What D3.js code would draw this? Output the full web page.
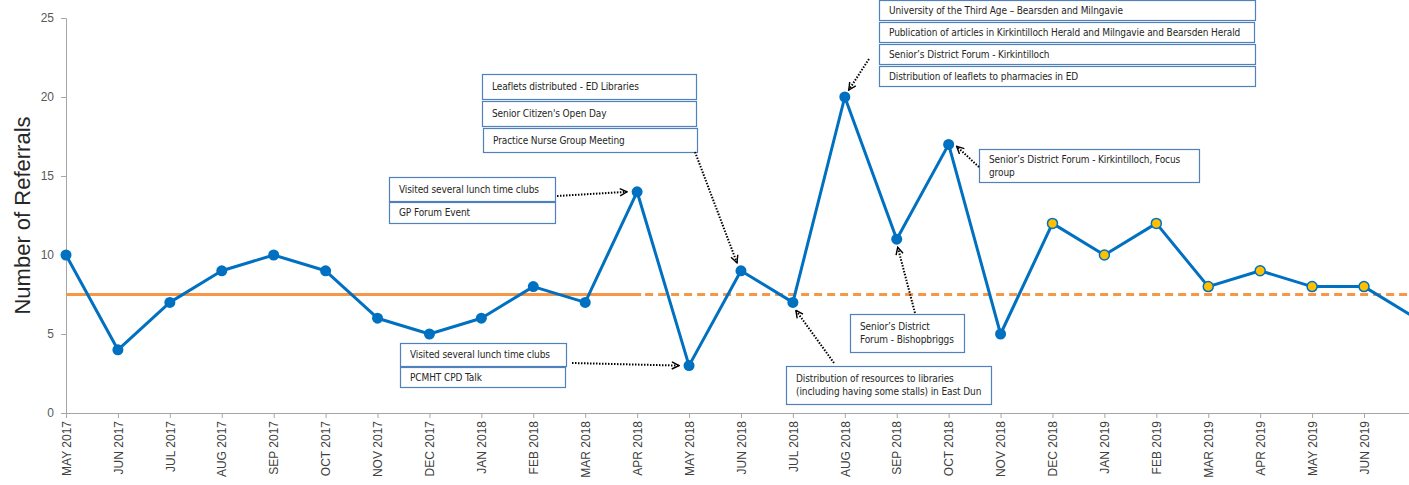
<!DOCTYPE html>
<html>
<head>
<meta charset="utf-8">
<script src="https://cdn.jsdelivr.net/npm/d3@7"></script>
<style>
  body { margin: 0; background: #fff; }
  svg { display: block; font-family: Arial, "Liberation Sans", sans-serif; }
</style>
</head>
<body>
<script>
const W = 1409, H = 485;

// months (JUL 2019 sits just past the right edge, like the cropped original)
const months = ['MAY 2017','JUN 2017','JUL 2017','AUG 2017','SEP 2017','OCT 2017','NOV 2017','DEC 2017',
  'JAN 2018','FEB 2018','MAR 2018','APR 2018','MAY 2018','JUN 2018','JUL 2018','AUG 2018','SEP 2018',
  'OCT 2018','NOV 2018','DEC 2018','JAN 2019','FEB 2019','MAR 2019','APR 2019','MAY 2019','JUN 2019','JUL 2019'];
const referrals = [10,4,7,9,10,9,6,5,6,8,7,14,3,9,7,20,11,17,5,12,10,12,8,9,8,8,6];
const highlighted = ['DEC 2018','JAN 2019','FEB 2019','MAR 2019','APR 2019','MAY 2019','JUN 2019'];
const medianValue = 7.5;
const medianBaselineEnd = 'APR 2018';
const yTicks = [0,5,10,15,20,25];

const data = months.map((m, i) => ({ m, v: referrals[i] }));

const svg = d3.select('body').append('svg')
  .attr('width', W)
  .attr('height', H);

const margin = { top: 18, left: 66, bottom: 72 };
const step = 51.92;

const x = d3.scalePoint()
  .domain(months)
  .range([margin.left, margin.left + step * (months.length - 1)]);

const y = d3.scaleLinear()
  .domain([0, 25])
  .range([H - margin.bottom, margin.top]);

// y axis
const yAxis = svg.append('g')
  .attr('transform', `translate(${margin.left},0)`)
  .call(d3.axisLeft(y).tickValues(yTicks).tickSize(5).tickPadding(7));
yAxis.select('.domain').attr('stroke', '#a6a6a6');
yAxis.selectAll('line').attr('stroke', '#a6a6a6');
yAxis.selectAll('text').attr('fill', '#595959').style('font-size', '12px');

// x axis (the last month is off the visible edge, so no label for it)
const xAxis = svg.append('g')
  .attr('transform', `translate(0,${y(0)})`)
  .call(d3.axisBottom(x).tickValues(months.slice(0, -1)).tickSize(5).tickSizeOuter(0));
xAxis.select('.domain').attr('stroke', '#a6a6a6');
xAxis.selectAll('line').attr('stroke', '#a6a6a6');
xAxis.selectAll('text')
  .attr('fill', '#404040')
  .style('font-size', '12px')
  .attr('transform', 'rotate(-90)')
  .attr('x', -8)
  .attr('y', 0)
  .attr('dy', '0.35em')
  .style('text-anchor', 'end');

svg.append('text')
  .attr('transform', `translate(30,${y(12.5)}) rotate(-90)`)
  .attr('text-anchor', 'middle')
  .attr('fill', '#262626')
  .style('font-size', '22px')
  .text('Number of Referrals');

// median line: solid over the baseline period, dashed after
const orange = '#f79646';
svg.append('line')
  .attr('x1', x(months[0])).attr('x2', x(medianBaselineEnd) + 4)
  .attr('y1', y(medianValue)).attr('y2', y(medianValue))
  .attr('stroke', orange).attr('stroke-width', 3);
svg.append('line')
  .attr('x1', x(medianBaselineEnd) + 8).attr('x2', x(months[months.length - 1]))
  .attr('y1', y(medianValue)).attr('y2', y(medianValue))
  .attr('stroke', orange).attr('stroke-width', 3)
  .attr('stroke-dasharray', '8,5');

// series
const blue = '#0070c0';
svg.append('path')
  .datum(data)
  .attr('fill', 'none')
  .attr('stroke', blue)
  .attr('stroke-width', 3)
  .attr('stroke-linejoin', 'round')
  .attr('d', d3.line().x(d => x(d.m)).y(d => y(d.v)));

svg.selectAll('circle.pt')
  .data(data)
  .enter()
  .append('circle')
  .attr('class', 'pt')
  .attr('cx', d => x(d.m))
  .attr('cy', d => y(d.v))
  .attr('r', d => highlighted.includes(d.m) ? 5 : 5.5)
  .attr('fill', d => highlighted.includes(d.m) ? '#ffc000' : blue)
  .attr('stroke', d => highlighted.includes(d.m) ? blue : 'none')
  .attr('stroke-width', 1.5);

// annotation boxes
const defs = svg.append('defs');
defs.append('marker')
  .attr('id', 'arrow')
  .attr('viewBox', '0 0 10 10')
  .attr('refX', 9).attr('refY', 5)
  .attr('markerWidth', 9).attr('markerHeight', 9)
  .attr('markerUnits', 'userSpaceOnUse')
  .attr('orient', 'auto')
  .append('path')
  .attr('d', 'M1,1 L9,5 L1,9')
  .attr('fill', 'none')
  .attr('stroke', '#000')
  .attr('stroke-width', 1.6);

const boxes = [
  { x: 482, y: 74, w: 214, h: 25, lines: ['Leaflets distributed - ED Libraries'] },
  { x: 482, y: 101, w: 214, h: 25, lines: ["Senior Citizen's Open Day"] },
  { x: 483, y: 128, w: 214, h: 24, lines: ['Practice Nurse Group Meeting'] },
  { x: 389, y: 177, w: 166, h: 24, lines: ['Visited several lunch time clubs'] },
  { x: 389, y: 202, w: 166, h: 21, lines: ['GP Forum Event'] },
  { x: 400, y: 343, w: 166, h: 23, lines: ['Visited several lunch time clubs'] },
  { x: 400, y: 367, w: 165, h: 20, lines: ['PCMHT CPD Talk'] },
  { x: 879, y: 0, w: 376, h: 20, lines: ['University of the Third Age \u2013 Bearsden and Milngavie'] },
  { x: 879, y: 22, w: 375, h: 20, lines: ['Publication of articles in Kirkintilloch Herald and Milngavie and Bearsden Herald'] },
  { x: 879, y: 44, w: 376, h: 20, lines: ["Senior\u2019s District Forum - Kirkintilloch"] },
  { x: 879, y: 66, w: 376, h: 20, lines: ['Distribution of leaflets to pharmacies in ED'] },
  { x: 979, y: 149, w: 220, h: 33, lines: ["Senior\u2019s District Forum - Kirkintilloch, Focus", 'group'] },
  { x: 850, y: 314, w: 114, h: 38, lines: ["Senior\u2019s District", 'Forum - Bishopbriggs'] },
  { x: 786, y: 366, w: 205, h: 38, lines: ['Distribution of resources to libraries', '(including having some stalls) in East Dun'] }
];

const bg = svg.selectAll('g.box')
  .data(boxes)
  .enter()
  .append('g')
  .attr('class', 'box');
bg.append('rect')
  .attr('x', d => d.x + 0.5).attr('y', d => d.y + 0.5)
  .attr('width', d => d.w).attr('height', d => d.h)
  .attr('fill', '#fff')
  .attr('stroke', '#4f81bd')
  .attr('stroke-width', 1.2);
bg.each(function(d) {
  const lh = 13;
  const top = d.y + d.h / 2 - (d.lines.length - 1) * lh / 2;
  d3.select(this).selectAll('text')
    .data(d.lines)
    .enter()
    .append('text')
    .attr('x', d.x + 10)
    .attr('y', (t, i) => top + i * lh)
    .attr('dy', '0.35em')
    .attr('fill', '#262626')
    .style('font-size', '10px')
    .style('font-family', '"DejaVu Sans Condensed", "Liberation Sans Narrow", Arial, sans-serif')
    .style('letter-spacing', '-0.1px')
    .text(t => t);
});

// dotted arrows, ending beside the point they refer to
const arrows = [
  { x1: 557, y1: 196, m: 'APR 2018', dx: -10, dy: 0 },
  { x1: 572, y1: 363, m: 'MAY 2018', dx: -10, dy: 0 },
  { x1: 695, y1: 152, m: 'JUN 2018', dx: -4, dy: -8 },
  { x1: 869, y1: 59, m: 'AUG 2018', dx: 4, dy: -7 },
  { x1: 979, y1: 167, m: 'OCT 2018', dx: 8, dy: 2 },
  { x1: 915, y1: 313, m: 'SEP 2018', dx: 1, dy: 8 },
  { x1: 834, y1: 363, m: 'JUL 2018', dx: 3, dy: 8 }
];
const valueOf = m => referrals[months.indexOf(m)];
svg.selectAll('line.arrow')
  .data(arrows)
  .enter()
  .append('line')
  .attr('class', 'arrow')
  .attr('x1', d => d.x1).attr('y1', d => d.y1)
  .attr('x2', d => x(d.m) + d.dx)
  .attr('y2', d => y(valueOf(d.m)) + d.dy)
  .attr('stroke', '#000')
  .attr('stroke-width', 2)
  .attr('stroke-dasharray', '1.5,1.5')
  .attr('marker-end', 'url(#arrow)');
</script>
</body>
</html>
